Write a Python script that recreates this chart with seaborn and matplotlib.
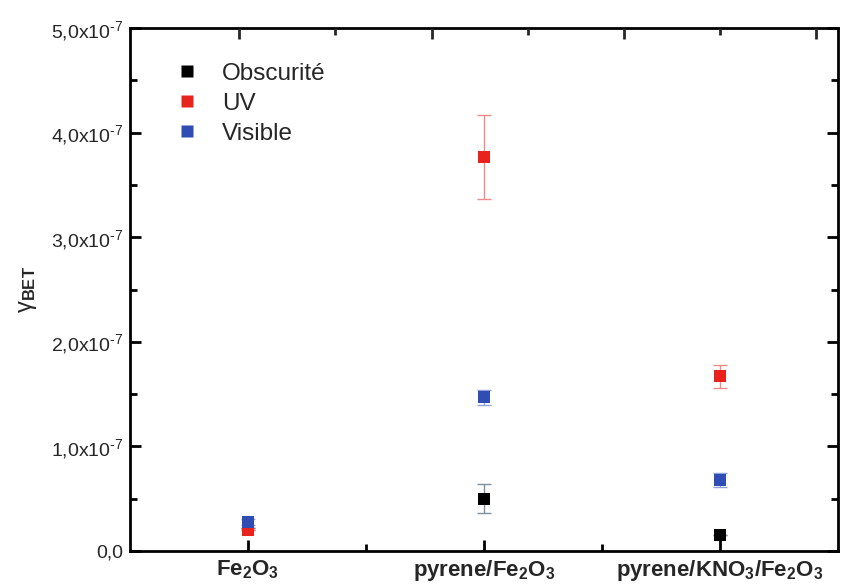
import numpy as np
import pandas as pd
import matplotlib
matplotlib.use("Agg")
import matplotlib.pyplot as plt
import seaborn as sns
from matplotlib.ticker import FixedLocator, MultipleLocator

categories = ["Fe$_2$O$_3$", "pyrene/Fe$_2$O$_3$", "pyrene/KNO$_3$/Fe$_2$O$_3$"]
series = ["Obscurité", "UV", "Visible"]
obscurite = [0.22e-7, 0.50e-7, 0.15e-7]
obscurite_err = [0.0, 0.14e-7, 0.0]
uv = [0.20e-7, 3.77e-7, 1.67e-7]
uv_err = [0.0, 0.40e-7, 0.11e-7]
visible = [0.28e-7, 1.47e-7, 0.68e-7]
visible_err = [0.03e-7, 0.07e-7, 0.07e-7]
ytick_vals = [0, 1e-7, 2e-7, 3e-7, 4e-7, 5e-7]
ytick_labels = ["0,0", "1,0x10$^{\u20107}$", "2,0x10$^{\u20107}$", "3,0x10$^{\u20107}$",
                "4,0x10$^{\u20107}$", "5,0x10$^{\u20107}$"]

colors = {"Obscurité": "#000000", "UV": "#e8231d", "Visible": "#2f4db3"}
errcolors = {"Obscurité": "#7f8fa0", "UV": "#f08a88", "Visible": "#8fa0dd"}

xpos = [1, 2, 3]
rows = []
for name, vals, errs in [("Obscurité", obscurite, obscurite_err),
                         ("UV", uv, uv_err), ("Visible", visible, visible_err)]:
    for x, v, e in zip(xpos, vals, errs):
        rows.append({"x": x, "y": v, "err": e, "series": name})
df = pd.DataFrame(rows)

sns.set_style("white")
plt.rcParams['font.family'] = ['Liberation Sans', 'DejaVu Sans']
plt.rcParams['axes.unicode_minus'] = False
plt.rcParams['mathtext.fontset'] = 'custom'
plt.rcParams['mathtext.rm'] = 'Liberation Sans'
plt.rcParams['mathtext.it'] = 'Liberation Sans'
plt.rcParams['mathtext.bf'] = 'Liberation Sans:bold'
plt.rcParams['mathtext.default'] = 'regular'

fig = plt.figure(figsize=(8.43, 5.87), dpi=100)
ax = fig.add_axes([0.154, 0.0613, 0.840, 0.891])

for name in series:
    sub = df[df["series"] == name]
    ax.errorbar(sub["x"], sub["y"], yerr=sub["err"], fmt="none",
                ecolor=errcolors[name], elinewidth=1.0, capsize=5, capthick=1.0, zorder=2)

sns.scatterplot(data=df, x="x", y="y", hue="series", hue_order=series,
                palette=colors, marker="s", s=75, edgecolor="none", ax=ax,
                zorder=3, legend=True)

ax.set_xlim(0.5, 3.5)
ax.set_ylim(0, 5e-7)
ax.set_xticks(xpos)
ax.set_xticklabels(categories, fontsize=16, fontweight="bold")
ax.xaxis.set_minor_locator(FixedLocator([1.5, 2.5]))
ax.set_yticks(ytick_vals)
ax.set_yticklabels(ytick_labels, fontsize=14)
ax.yaxis.set_minor_locator(MultipleLocator(0.5e-7))
ax.set_xlabel("")
ax.set_ylabel(r"$\gamma_{\mathbf{BET}}$", fontsize=17, labelpad=8)

for s in ax.spines.values():
    s.set_linewidth(2.0)
    s.set_color("black")
    s.set_visible(True)

ax.tick_params(axis="both", which="major", direction="in", length=8, width=2,
               color="black", left=True, bottom=True, right=True, top=False, pad=5)
ax.tick_params(axis="both", which="minor", direction="in", length=5, width=2,
               color="black", left=True, bottom=True, right=True, top=False)

# top axis with its own tick positions
ax_top = ax.twiny()
ax_top.set_xlim(ax.get_xlim())
ax_top.set_xticks([0.962, 1.780, 2.593, 3.405])
ax_top.xaxis.set_minor_locator(FixedLocator([1.369, 2.186, 3.0]))
ax_top.set_xticklabels([])
ax_top.tick_params(axis="x", which="major", direction="in", length=8, width=2, top=True)
ax_top.tick_params(axis="x", which="minor", direction="in", length=5, width=2, top=True)
for s in ax_top.spines.values():
    s.set_visible(False)

leg = ax.legend(loc="upper left", bbox_to_anchor=(0.05, 0.952), frameon=False,
                fontsize=17.5, handletextpad=0.95, labelspacing=0.33, markerscale=1.0,
                handlelength=1.0, borderaxespad=0.0)

fig.savefig("out.png", dpi=100)
